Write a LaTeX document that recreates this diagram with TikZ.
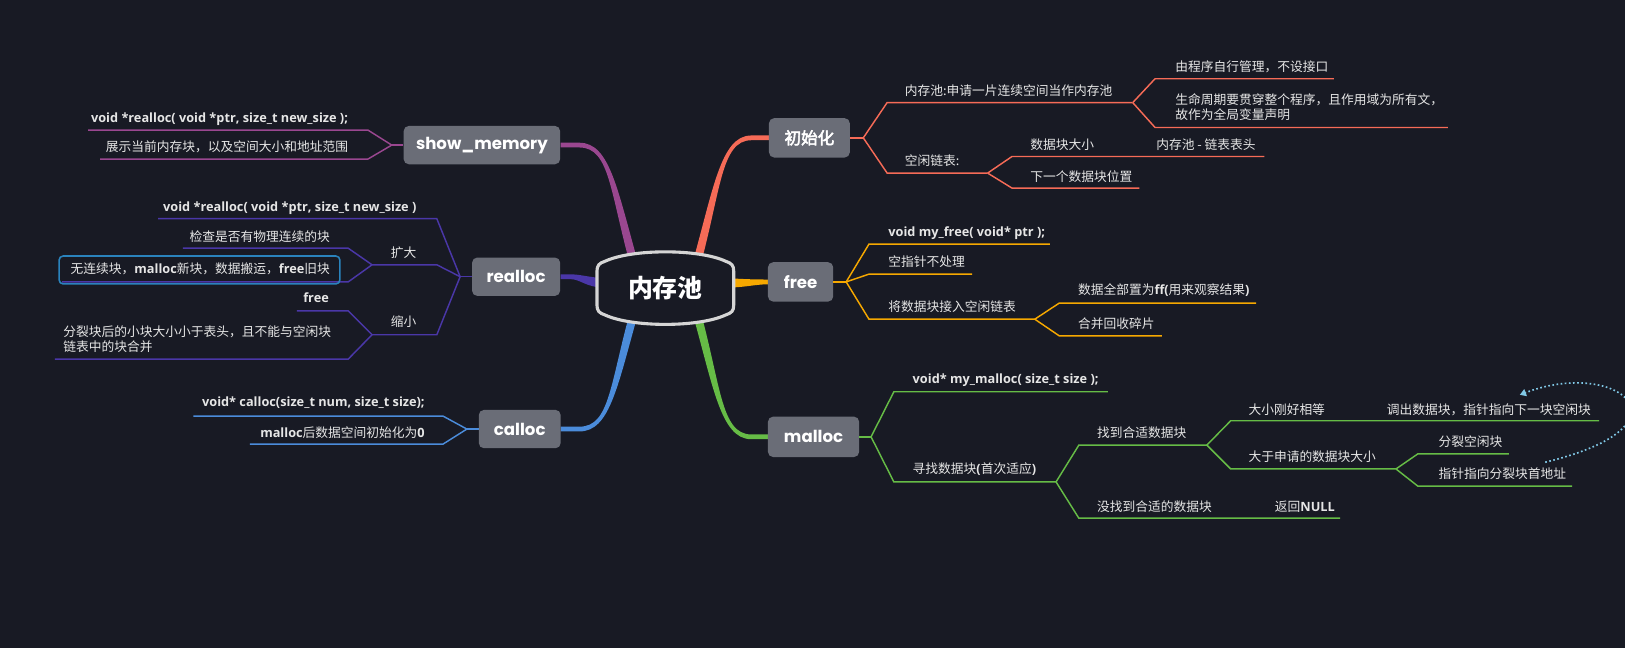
\documentclass[tikz,border=0pt]{standalone}
\usepackage{fontspec}
\setmainfont{Noto Sans CJK SC}
\newfontfamily\zhb[FakeBold=3]{Noto Sans CJK SC}
\newfontfamily\enf{Open Sans}
\newfontfamily\ttlf{Poppins}
\newcommand\latb[1]{{\enf\bfseries #1}}
\usetikzlibrary{arrows.meta}
\definecolor{bgc}{HTML}{181A24}
\definecolor{cred}{HTML}{F66B57}
\definecolor{corange}{HTML}{F6A800}
\definecolor{cgreen}{HTML}{66BC46}
\definecolor{cpurple}{HTML}{9A4790}
\definecolor{cindigo}{HTML}{4A37A8}
\definecolor{cblue}{HTML}{4B8CDB}
\definecolor{boxg}{HTML}{6A6D77}
\definecolor{txt}{HTML}{E6E6E6}
\definecolor{hlc}{HTML}{2A83BD}
\definecolor{dotc}{HTML}{80C8E6}
\definecolor{rimc}{HTML}{D5D5D5}
\newcommand\mmbr[6]{\coordinate (#3s) at (#4,#6); \coordinate (#3) at (#5,#6); \draw[#1] (#2) -- (#3s) -- (#3);}
\tikzset{
  topic/.style={fill=boxg, rounded corners=5pt, text=white, inner sep=0pt, font=\ttlf\bfseries\fontsize{16}{18}\selectfont},
  lbl/.style={inner sep=0pt, text=txt, font=\fontsize{12.3}{14.5}\selectfont},
  lw/.style={lbl, anchor=west, align=left},
  le/.style={lbl, anchor=east, align=left},
  lred/.style={draw=cred, line width=1.4pt},
  lor/.style={draw=corange, line width=1.4pt},
  lgr/.style={draw=cgreen, line width=1.4pt},
  lpu/.style={draw=cpurple, line width=1.4pt},
  lin/.style={draw=cindigo, line width=1.4pt},
  lbl2/.style={draw=cblue, line width=1.4pt},
}
\begin{document}
\begin{tikzpicture}[x=1pt,y=-1pt]
\fill[bgc] (0,0) rectangle (1568,625);
\useasboundingbox (0,0) rectangle (1568,625);

% main tapered connectors
\fill[cred] (666.2,260.9) .. controls (688.2,183.9) and (695,130.7) .. (725,130.7) -- (742,130.7) -- (742,135.3) -- (725,135.3) .. controls (695,135.3) and (695.8,186.1) .. (673.8,263.1) -- cycle;
\fill[cgreen] (673.8,292.9) .. controls (695.8,369.9) and (695,419.2) .. (725,419.2) -- (742,419.2) -- (742,423.8) -- (725,423.8) .. controls (695,423.8) and (688.2,372.1) .. (666.2,295.1) -- cycle;
\fill[cpurple] (617.8,260.9) .. controls (595.8,183.9) and (589,137.7) .. (559,137.7) -- (541,137.7) -- (541,142.3) -- (559,142.3) .. controls (589,142.3) and (588.2,186.1) .. (610.2,263.1) -- cycle;
\fill[cblue] (610.2,292.9) .. controls (588.2,369.9) and (589,411.7) .. (559,411.7) -- (541,411.7) -- (541,416.3) -- (559,416.3) .. controls (589,416.3) and (595.8,372.1) .. (617.8,295.1) -- cycle;
\fill[cindigo] (582,268.5) .. controls (565,267) and (560,264.7) .. (550,264.7) -- (541,264.7) -- (541,269.3) -- (550,269.3) .. controls (560,269.3) and (565,277) .. (582,277.5) -- cycle;
\fill[corange] (704,268.5) .. controls (720,269.5) and (730,269.7) .. (741,269.7) -- (741,274.3) .. controls (730,274.3) and (720,277) .. (704,277.5) -- cycle;

% central topic
\draw[rimc, line width=3pt, fill=bgc] (576,262) .. controls (576,256) and (578,254) .. (584,252) .. controls (610,240) and (674,240) .. (700,252) .. controls (706,254) and (708,256) .. (708,262) -- (708,294) .. controls (708,300) and (706,302) .. (700,304) .. controls (674,316) and (610,316) .. (584,304) .. controls (578,302) and (576,300) .. (576,294) -- cycle;
\node[inner sep=0pt, text=white, font=\bfseries\fontsize{24}{26}\selectfont] (root) at (642,278) {内存池};

% ===== 初始化 =====
\node[topic, font=\zhb\fontsize{16}{18}\selectfont, minimum width=78pt, minimum height=38pt] (init) at (781,133) {初始化};
\coordinate (ji) at (833,133);
\draw[lred] (init.east) -- (ji);
\mmbr{lred}{ji}{a1}{856}{1093}{99}
\node[lw] (ta1) at (873,87.5) {内存池:申请一片连续空间当作内存池};
\mmbr{lred}{a1}{a11}{1114.5}{1287}{76}
\node[lw] (ta11) at (1134,64) {由程序自行管理，不设接口};
\mmbr{lred}{a1}{a12}{1114.5}{1397}{123}
\node[lw] (ta12) at (1134,103.75) {生命周期要贯穿整个程序，且作用域为所有文，\\故作为全局变量声明};
\mmbr{lred}{ji}{a2}{856}{953}{167}
\node[lw] (ta2) at (873,154.5) {空闲链表:};
\mmbr{lred}{a2}{a21}{976.5}{1220}{151}
\node[lw] (ta21) at (994,140) {数据块大小};
\node[lw] (ta211) at (1115.5,140) {内存池 - 链表表头};
\mmbr{lred}{a2}{a22}{976.5}{1099.5}{181.5}
\node[lw] (ta22) at (994,170.5) {下一个数据块位置};

% ===== free =====
\node[topic, minimum width=63pt, minimum height=38pt] (free) at (772.5,272) {free};
\coordinate (jf) at (816.5,272);
\draw[lor] (free.east) -- (jf);
\mmbr{lor}{jf}{f1}{838.5}{1013}{235.5}
\node[lw] (tf1) at (857,225) {\latb{void my\_free( void* ptr );}};
\mmbr{lor}{jf}{f2}{838.5}{938}{264.5}
\node[lw] (tf2) at (857,252.5) {空指针不处理};
\mmbr{lor}{jf}{f3}{838.5}{998.5}{308}
\node[lw] (tf3) at (857,296) {将数据块接入空闲链表};
\mmbr{lor}{f3}{f31}{1022}{1212}{292.5}
\node[lw] (tf31) at (1040,280) {数据全部置为\latb{ff(}用来观察结果\latb{)}};
\mmbr{lor}{f3}{f32}{1022}{1121}{324}
\node[lw] (tf32) at (1040,312) {合并回收碎片};

% ===== malloc =====
\node[topic, minimum width=88pt, minimum height=39pt] (malloc) at (785,421.5) {malloc};
\coordinate (jm) at (840.5,421.5);
\draw[lgr] (malloc.east) -- (jm);
\mmbr{lgr}{jm}{m1}{862.5}{1069}{378}
\node[lw] (tm1) at (880.5,366.5) {\latb{void* my\_malloc( size\_t size );}};
\mmbr{lgr}{jm}{m2}{862.5}{1019}{465}
\node[lw] (tm2) at (880.5,452.5) {寻找数据块\latb{(}首次适应\latb{)}};
\mmbr{lgr}{m2}{m21}{1041}{1164.5}{429.5}
\node[lw] (tm21) at (1058.5,417.5) {找到合适数据块};
\mmbr{lgr}{m21}{m211}{1187.5}{1543}{406}
\node[lw] (tm211) at (1204.5,395) {大小刚好相等};
\node[lw] (tm2111) at (1338,395) {调出数据块，指针指向下一块空闲块};
\mmbr{lgr}{m21}{m212}{1187.5}{1347}{452.5}
\node[lw] (tm212) at (1204.5,441) {大于申请的数据块大小};
\mmbr{lgr}{m212}{m2121}{1368}{1456}{438}
\node[lw] (tm2121) at (1388,426) {分裂空闲块};
\mmbr{lgr}{m212}{m2122}{1368}{1517}{469}
\node[lw] (tm2122) at (1388,457.5) {指针指向分裂块首地址};
\mmbr{lgr}{m2}{m22}{1041}{1293}{500}
\node[lw] (tm22) at (1058.5,489) {没找到合适的数据块};
\node[lw] (tm221) at (1230,489) {返回\latb{NULL}};

% dotted relationship
\coordinate (ds) at (1491,446);
\coordinate (de) at (1466.5,381);
\draw[dotc, line width=1.6pt, dash pattern=on 1.6pt off 2.4pt, -{Triangle[length=6pt,width=7pt]}] (ds) .. controls (1640,410) and (1560,345) .. (de);

% ===== show_memory =====
\node[topic, minimum width=151pt, minimum height=37pt] (showm) at (465,140) {show\_memory};
\coordinate (js) at (378,140);
\draw[lpu] (showm.west) -- (js);
\mmbr{lpu}{js}{s1}{355}{85}{125.5}
\node[le] (ts1) at (336,115) {\latb{void *realloc( void *ptr, size\_t new\_size );}};
\mmbr{lpu}{js}{s2}{355}{96.5}{153.5}
\node[le] (ts2) at (336,142) {展示当前内存块，以及空间大小和地址范围};

% ===== realloc =====
\node[topic, minimum width=85pt, minimum height=37pt] (realloc) at (498,267) {realloc};
\coordinate (jr) at (444,267);
\draw[lin] (realloc.west) -- (jr);
\mmbr{lin}{jr}{r1}{421.5}{152.5}{211}
\node[le] (tr1) at (402,200.5) {\latb{void *realloc( void *ptr, size\_t new\_size )}};
\mmbr{lin}{jr}{r2}{421.5}{359}{255.5}
\node[le] (tr2) at (402,244) {扩大};
\mmbr{lin}{r2}{r21}{336}{176.5}{239.5}
\node[le] (tr21) at (318.5,228.5) {检查是否有物理连续的块};
\mmbr{lin}{r2}{r22}{336}{60}{272}
\node[le] (tr22) at (318.5,259.5) {无连续块，\latb{malloc}新块，数据搬运，\latb{free}旧块};
\draw[hlc, line width=1.5pt, rounded corners=4pt] (57,247) rectangle (328,274);
\mmbr{lin}{jr}{r3}{421.5}{359}{323}
\node[le] (tr3) at (402,310.5) {缩小};
\mmbr{lin}{r3}{r31}{336}{286.5}{300}
\node[le] (tr31) at (317.5,287.5) {\latb{free}};
\mmbr{lin}{r3}{r32}{336}{53}{346.5}
\node[lw] (tr32) at (61,327.25) {分裂块后的小块大小小于表头，且不能与空闲块\\链表中的块合并};

% ===== calloc =====
\node[topic, minimum width=79pt, minimum height=37pt] (calloc) at (501.5,414) {calloc};
\coordinate (jc) at (450.5,414);
\draw[lbl2] (calloc.west) -- (jc);
\mmbr{lbl2}{jc}{c1}{427.5}{186.5}{401.5}
\node[le] (tc1) at (410,389) {\latb{void* calloc(size\_t num, size\_t size);}};
\mmbr{lbl2}{jc}{c2}{427.5}{241}{428.5}
\node[le] (tc2) at (410,417) {\latb{malloc}后数据空间初始化为\latb{0}};
\end{tikzpicture}
\end{document}
